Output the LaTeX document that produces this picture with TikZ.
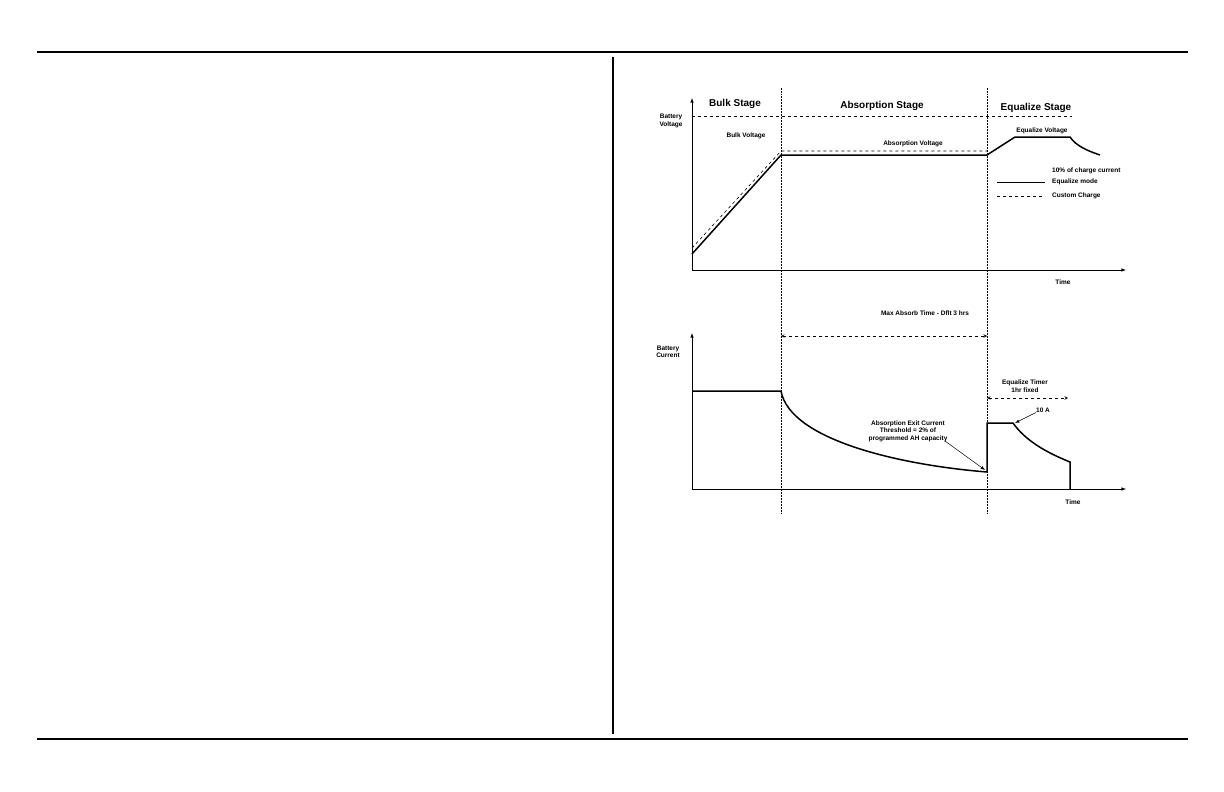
\documentclass[tikz,border=0pt]{standalone}
\usepackage{fontspec}
\setmainfont{Liberation Sans}
\begin{document}
\begin{tikzpicture}[x=1pt,y=-1pt,
  lbl/.style={font=\bfseries\fontsize{6.5}{7.5}\selectfont,align=center,inner sep=0pt},
  stage/.style={font=\bfseries\fontsize{10}{12}\selectfont,inner sep=0pt},
  curve/.style={line width=1.5pt},
  axis/.style={line width=0.6pt,-latex},
  divider/.style={densely dotted,line width=0.5pt},
  rule/.style={line width=1.2pt}]
\useasboundingbox (0,0) rectangle (1224,792);
% frame
\draw[rule] (37,52) -- (1188,52);
\draw[rule] (37,739) -- (1188,739);
\draw[rule] (613,57) -- (613,734);
% dividers
\coordinate (d1t) at (781,88); \coordinate (d1b) at (781,513);
\coordinate (d2t) at (987,88); \coordinate (d2b) at (987,513);
\draw[divider] (d1t) -- (d1b);
\draw[divider] (d2t) -- (d2b);
% voltage axes
\coordinate (vo) at (692,270);
\coordinate (vy) at (692,98);
\coordinate (vx) at (1126,270);
\draw[axis] (vo) -- (vy);
\draw[axis] (vo) -- (vx);
\draw[dashed,line width=0.9pt] (692,116) -- (1072,116);
\node[stage] (bulk) at (735,104) {Bulk Stage};
\node[stage] (abs) at (882,106) {Absorption Stage};
\node[stage] (eq) at (1036,108) {Equalize Stage};
\node[lbl] (bv) at (671,121) {Battery\\Voltage};
\node[lbl] (bulkv) at (746,136) {Bulk Voltage};
\node[lbl] (absv) at (913,144) {Absorption Voltage};
\node[lbl] (eqv) at (1042,131) {Equalize Voltage};
\node[lbl] (t1) at (1063,282) {Time};
\draw[dashed,line width=0.6pt] (692,248) -- (781,151) -- (987,151);
\draw[curve] (692,254) -- (781,155) -- (987,155) -- (1015,137) -- (1070,137) .. controls (1076,146) and (1088,151) .. (1100,155);
% legend
\node[lbl,anchor=west] (l0) at (1052,171) {10\% of charge current};
\node[lbl,anchor=west] (l1) at (1052,182) {Equalize mode};
\node[lbl,anchor=west] (l2) at (1052,196) {Custom Charge};
\draw[line width=1pt] (997,182) -- (1045,182);
\draw[dashed,line width=0.8pt] (997,196) -- (1045,196);
% current axes
\coordinate (co) at (692,489);
\coordinate (cy) at (692,333);
\coordinate (cx) at (1126,489);
\draw[axis] (co) -- (cy);
\draw[axis] (co) -- (cx);
\node[lbl] (bc) at (668,352) {Battery\\Current};
\node[lbl] (t2) at (1073,502) {Time};
\node[lbl] (mat) at (925,313) {Max Absorb Time - Dflt 3 hrs};
\coordinate (ma1) at (781,336); \coordinate (ma2) at (987,336);
\draw[dashed,line width=0.6pt,<->,>=stealth] (ma1) -- (ma2);
\node[lbl] (et) at (1025,386) {Equalize Timer\\1hr fixed};
\coordinate (et1) at (987,398); \coordinate (et2) at (1068,398);
\draw[dashed,line width=0.6pt,<->,>=stealth] (et1) -- (et2);
\draw[curve] (692,391) -- (781,391) .. controls (790,440) and (900,465) .. (987,472) -- (987,423) -- (1013,423) .. controls (1025,440) and (1045,452) .. (1070,462) -- (1070,489);
\node[lbl] (ten) at (1043,410) {10 A};
\coordinate (tenp) at (1015,423);
\draw[line width=0.5pt,-latex] (ten.south west) -- (tenp);
\node[lbl] (aec) at (908,431) {Absorption Exit Current\\Threshold = 2\% of\\programmed AH capacity};
\coordinate (aecp) at (985,470);
\draw[line width=0.5pt,-latex] (945,441) -- (aecp);
\end{tikzpicture}
\end{document}
